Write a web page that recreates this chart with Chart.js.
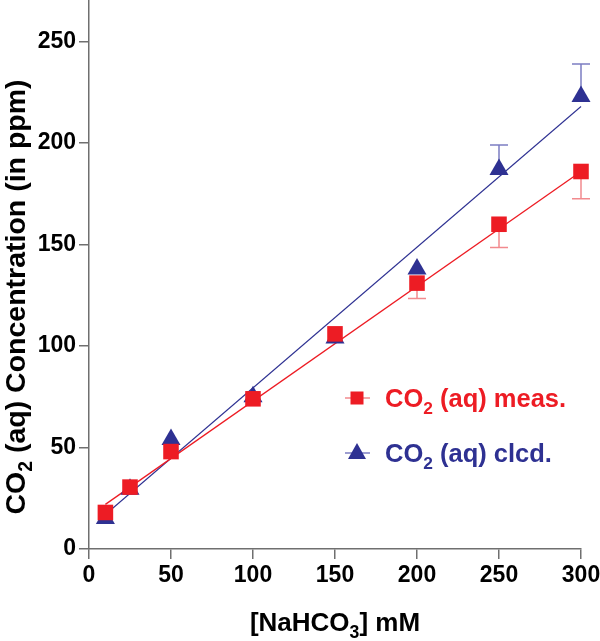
<!DOCTYPE html>
<html>
<head>
<meta charset="utf-8">
<script src="https://cdn.jsdelivr.net/npm/chart.js@4.4.1/dist/chart.umd.min.js"></script>
<style>
  body { margin: 0; background: #fff; overflow: hidden; }
  /* canvas is 10px taller and pulled up so the plot starts at the top edge */
  #wrap { width: 600px; height: 651px; position: relative; margin-top: -10px; }
</style>
</head>
<body>
<div id="wrap"><canvas id="co2Chart"></canvas></div>
<script>
// data
var xValues = [10, 25, 50, 100, 150, 200, 250, 300];
var measured = [18, 30.5, 48, 74, 106, 131, 160, 186];
var calculated = [15, 29.5, 54, 75, 104, 138, 187, 223];
var measuredErr = [0, 0, 0, 0, 0, 7.6, 11.5, 13.4];     // drawn downward
var calculatedErr = [0, 0, 0, 0, 0, 0, 12, 16];         // drawn upward
var fitX = [10, 300];
var measuredFit = [22, 186];
var calculatedFit = [17, 218];
var xTicks = [0, 50, 100, 150, 200, 250, 300];
var yTicks = [0, 50, 100, 150, 200, 250];

var RED = '#ED1C24', BLUE = '#2E3192';
var RED_LIGHT = '#F28A8E', BLUE_LIGHT = '#7C7EC2';
var FONT = '"Liberation Sans", Arial, Helvetica, sans-serif';
var OFF = 10; // canvas offset (see css)

function toPoints(xs, ys) {
     return xs.map(function (x, i) { return { x: x, y: ys[i] }; });
}

// draws text with subscript parts, e.g. CO2
function drawRich(ctx, parts, x, y, size, color, align) {
     var total = 0;
     parts.forEach(function (p) {
          ctx.font = 'bold ' + (p.sub ? size * 0.68 : size) + 'px ' + FONT;
          p.w = ctx.measureText(p.t).width;
          total += p.w;
     });
     var cx = align === 'center' ? x - total / 2 : x;
     ctx.fillStyle = color;
     ctx.textBaseline = 'alphabetic';
     ctx.textAlign = 'left';
     parts.forEach(function (p) {
          ctx.font = 'bold ' + (p.sub ? size * 0.68 : size) + 'px ' + FONT;
          ctx.fillText(p.t, cx, p.sub ? y + size * 0.26 : y);
          cx += p.w;
     });
}

var errorBars = {
     id: 'errorBars',
     beforeDatasetsDraw: function (chart) {
          var ctx = chart.ctx, xs = chart.scales.x, ys = chart.scales.y;
          function bars(vals, errs, dir, color) {
               ctx.save();
               ctx.strokeStyle = color;
               ctx.lineWidth = 1.5;
               vals.forEach(function (v, i) {
                    if (!errs[i]) return;
                    var px = xs.getPixelForValue(xValues[i]);
                    var p0 = ys.getPixelForValue(v);
                    var p1 = ys.getPixelForValue(v + dir * errs[i]);
                    ctx.beginPath();
                    ctx.moveTo(px, p0); ctx.lineTo(px, p1);
                    ctx.moveTo(px - 9, p1); ctx.lineTo(px + 9, p1);
                    ctx.stroke();
               });
               ctx.restore();
          }
          bars(measured, measuredErr, -1, RED_LIGHT);
          bars(calculated, calculatedErr, 1, BLUE_LIGHT);
     }
};

var labelsPlugin = {
     id: 'labelsPlugin',
     afterDraw: function (chart) {
          var ctx = chart.ctx, area = chart.chartArea;
          // y title
          ctx.save();
          ctx.translate(25, 297 + OFF);
          ctx.rotate(-Math.PI / 2);
          drawRich(ctx, [{ t: 'CO' }, { t: '2', sub: true }, { t: ' (aq) Concentration (in ppm)' }], 0, 0, 28.5, '#000', 'center');
          ctx.restore();
          // x title
          ctx.save();
          drawRich(ctx, [{ t: '[NaHCO' }, { t: '3', sub: true }, { t: '] mM' }], (area.left + area.right) / 2, 631 + OFF, 26, '#000', 'center');
          ctx.restore();
          // legend
          var items = [
               { y: 398 + OFF, color: RED, light: RED_LIGHT, style: 'rect', parts: [{ t: 'CO' }, { t: '2', sub: true }, { t: ' (aq) meas.' }] },
               { y: 453 + OFF, color: BLUE, light: BLUE_LIGHT, style: 'triangle', parts: [{ t: 'CO' }, { t: '2', sub: true }, { t: ' (aq) clcd.' }] }
          ];
          items.forEach(function (it) {
               ctx.save();
               ctx.strokeStyle = it.light;
               ctx.lineWidth = 1.5;
               ctx.beginPath();
               ctx.moveTo(345, it.y); ctx.lineTo(370, it.y);
               ctx.stroke();
               ctx.fillStyle = it.color;
               if (it.style === 'rect') {
                    ctx.fillRect(357 - 6.5, it.y - 6.5, 13, 13);
               } else {
                    ctx.beginPath();
                    ctx.moveTo(357, it.y - 10);
                    ctx.lineTo(366, it.y + 6);
                    ctx.lineTo(348, it.y + 6);
                    ctx.closePath();
                    ctx.fill();
               }
               drawRich(ctx, it.parts, 385, it.y + 9, 25.5, it.color, 'left');
               ctx.restore();
          });
     }
};

var ctx = document.getElementById('co2Chart').getContext('2d');
new Chart(ctx, {
     type: 'scatter',
     data: {
          datasets: [{
               label: 'CO2 (aq) meas.',
               data: toPoints(xValues, measured),
               pointStyle: 'rect',
               pointRadius: 11,
               backgroundColor: RED,
               borderColor: RED,
               borderWidth: 0,
               clip: false,
               order: 0
          }, {
               label: 'CO2 (aq) clcd.',
               data: toPoints(xValues, calculated),
               pointStyle: 'triangle',
               pointRadius: 11,
               backgroundColor: BLUE,
               borderColor: BLUE,
               borderWidth: 0,
               clip: false,
               order: 1
          }, {
               label: 'meas. fit',
               data: toPoints(fitX, measuredFit),
               showLine: true,
               pointRadius: 0,
               borderColor: RED,
               borderWidth: 1.3,
               clip: false,
               order: 2
          }, {
               label: 'clcd. fit',
               data: toPoints(fitX, calculatedFit),
               showLine: true,
               pointRadius: 0,
               borderColor: BLUE,
               borderWidth: 1.1,
               clip: false,
               order: 3
          }]
     },
     options: {
          responsive: true,
          maintainAspectRatio: false,
          animation: false,
          layout: { padding: { left: 0, right: 19, top: 0, bottom: 0 } },
          plugins: {
               legend: { display: false },
               tooltip: { enabled: false }
          },
          scales: {
               x: {
                    type: 'linear',
                    min: 0,
                    max: 300,
                    afterBuildTicks: function (scale) {
                         scale.ticks = xTicks.map(function (v) { return { value: v }; });
                    },
                    afterFit: function (scale) {
                         scale.height = 92;
                         scale.paddingLeft = 0;
                         scale.paddingRight = 0;
                    },
                    border: { color: '#6f6f6f', width: 1.5 },
                    grid: { drawOnChartArea: false, drawTicks: true, tickLength: 10, color: '#6f6f6f', lineWidth: 1.5 },
                    ticks: { color: '#000', padding: 3, maxRotation: 0, font: { family: FONT, size: 23, weight: 'bold' } }
               },
               y: {
                    type: 'linear',
                    min: 0,
                    max: 270,
                    afterBuildTicks: function (scale) {
                         scale.ticks = yTicks.map(function (v) { return { value: v }; });
                    },
                    afterFit: function (scale) {
                         scale.width = 89;
                         scale.paddingTop = 0;
                         scale.paddingBottom = 0;
                    },
                    border: { color: '#6f6f6f', width: 1.5 },
                    grid: { drawOnChartArea: false, drawTicks: true, tickLength: 10, color: '#6f6f6f', lineWidth: 1.5 },
                    ticks: { color: '#000', padding: 3, font: { family: FONT, size: 23, weight: 'bold' } }
               }
          }
     },
     plugins: [errorBars, labelsPlugin]
});
</script>
</body>
</html>
